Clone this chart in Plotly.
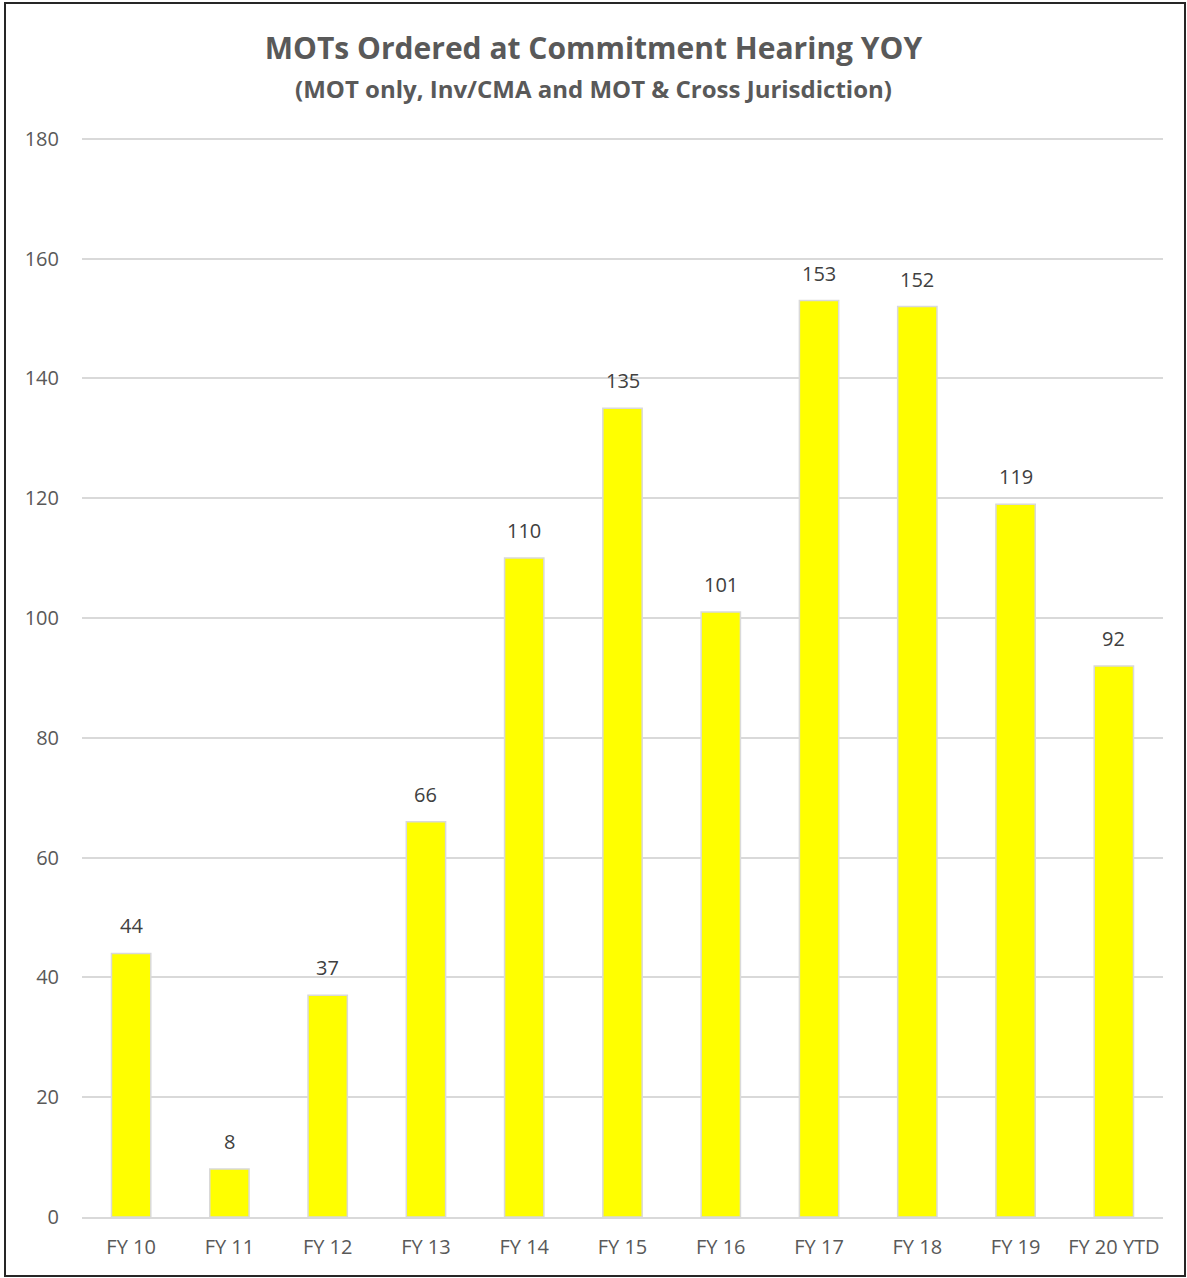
import plotly.graph_objects as go

years = ['FY 10', 'FY 11', 'FY 12', 'FY 13', 'FY 14', 'FY 15', 'FY 16',
         'FY 17', 'FY 18', 'FY 19', 'FY 20 YTD']
mots = [44, 8, 37, 66, 110, 135, 101, 153, 152, 119, 92]

W, H = 1187, 1278
ml, mr, mt, mb = 82, 24, 137, 61
pw, ph = W - ml - mr, H - mt - mb

fig = go.Figure()
fig.add_trace(go.Bar(
    x=years, y=mots,
    marker=dict(color='#FFFF00', line=dict(color='#D9D9D9', width=1.5)),
    hoverinfo='x+y',
))

# value labels above the bars
for yr, v in zip(years, mots):
    fig.add_annotation(x=yr, y=v, text=str(v), showarrow=False,
                       yanchor='bottom', yshift=12,
                       font=dict(size=20, color='#404040'))

fig.update_layout(
    width=W, height=H,
    margin=dict(l=ml, r=mr, t=mt, b=mb),
    paper_bgcolor='white', plot_bgcolor='white',
    font=dict(family='Open Sans, sans-serif', color='#595959'),
    bargap=0.6,
    showlegend=False,
    title=dict(
        text='<b>MOTs Ordered at Commitment Hearing YOY</b><br>'
             '<span style="font-size:24px"><b>(MOT only, Inv/CMA and MOT &amp; Cross Jurisdiction)</b></span>',
        x=0.5, xanchor='center', y=0.954, yanchor='top',
        font=dict(size=30, color='#595959'),
    ),
    shapes=[dict(type='rect', xref='paper', yref='paper',
                 x0=(5 - ml) / pw, x1=(1185 - ml) / pw,
                 y0=(mt + ph - 1276) / ph, y1=(mt + ph - 3) / ph,
                 line=dict(color='#262626', width=2))],
)
fig.update_xaxes(showgrid=False, showline=True, linecolor='#D9D9D9', linewidth=1.5,
                 ticks='', ticklabelstandoff=11,
                 tickfont=dict(size=20, color='#595959'))
fig.update_yaxes(range=[0, 180.3], tickvals=list(range(0, 181, 20)),
                 gridcolor='#D9D9D9', gridwidth=1.5,
                 zeroline=False, showline=False, ticks='', ticklabelstandoff=22,
                 tickfont=dict(size=20, color='#595959'))

fig.write_html("out.html", config={'displayModeBar': False},
               post_script="document.body.style.margin='0';")
